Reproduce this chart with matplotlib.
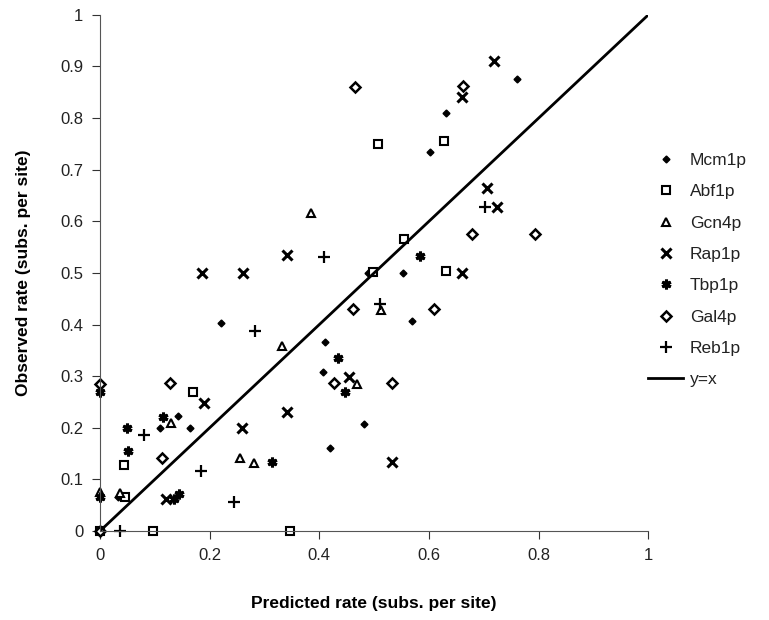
import numpy as np
import matplotlib.pyplot as plt

plt.rcParams['font.family'] = ['Liberation Sans', 'DejaVu Sans']

# predicted / observed rates per factor
mcm1p_x = [0.76, 0.631, 0.602, 0.553, 0.489, 0.57, 0.41, 0.407, 0.482, 0.42, 0.22, 0.11, 0.164, 0.142, 0.0, 0.033]
mcm1p_y = [0.875, 0.81, 0.735, 0.50, 0.50, 0.407, 0.366, 0.308, 0.207, 0.161, 0.403, 0.20, 0.20, 0.222, 0.07, 0.065]

abf1p_x = [0.0, 0.097, 0.347, 0.046, 0.044, 0.169, 0.555, 0.498, 0.631, 0.628, 0.507]
abf1p_y = [0.0, 0.0, 0.0, 0.065, 0.127, 0.27, 0.566, 0.502, 0.504, 0.755, 0.75]

gcn4p_x = [0.385, 0.332, 0.255, 0.281, 0.13, 0.037, 0.513, 0.468, 0.0]
gcn4p_y = [0.617, 0.359, 0.141, 0.132, 0.21, 0.073, 0.428, 0.285, 0.075]

rap1p_x = [0.719, 0.66, 0.706, 0.725, 0.66, 0.341, 0.186, 0.261, 0.259, 0.342, 0.12, 0.454, 0.532, 0.19]
rap1p_y = [0.91, 0.84, 0.665, 0.628, 0.50, 0.535, 0.50, 0.50, 0.20, 0.231, 0.062, 0.298, 0.133, 0.249]

tbp1p_x = [0.584, 0.05, 0.052, 0.313, 0.135, 0.145, 0.435, 0.447, 0.0, 0.115, 0.0]
tbp1p_y = [0.533, 0.20, 0.156, 0.134, 0.063, 0.072, 0.335, 0.27, 0.27, 0.22, 0.065]

gal4p_x = [0.465, 0.663, 0.678, 0.794, 0.461, 0.609, 0.427, 0.532, 0.128, 0.114, 0.0, 0.0]
gal4p_y = [0.86, 0.862, 0.575, 0.575, 0.43, 0.43, 0.286, 0.286, 0.287, 0.141, 0.285, 0.0]

reb1p_x = [0.408, 0.283, 0.081, 0.184, 0.245, 0.037, 0.51, 0.703]
reb1p_y = [0.53, 0.388, 0.186, 0.117, 0.056, 0.0, 0.44, 0.628]

fig = plt.figure(figsize=(7.69, 6.2), dpi=100)
ax = fig.add_axes([0.130, 0.1435, 0.713, 0.8325])

kw = dict(linestyle='none', color='black', clip_on=False)
ax.plot(mcm1p_x, mcm1p_y, marker='D', markersize=3.5, label='Mcm1p', **kw)
ax.plot(abf1p_x, abf1p_y, marker='s', markersize=5.5, markerfacecolor='white', markeredgewidth=1.5, label='Abf1p', **kw)
ax.plot(gcn4p_x, gcn4p_y, marker='^', markersize=6, markerfacecolor='white', markeredgewidth=1.5, label='Gcn4p', **kw)
ax.plot(rap1p_x, rap1p_y, marker='x', markersize=6.5, markeredgewidth=2.2, label='Rap1p', **kw)
ax.plot(tbp1p_x, tbp1p_y, marker=(6, 2, 0), markersize=7, markeredgewidth=2.2, label='Tbp1p', **kw)
ax.plot(gal4p_x, gal4p_y, marker='D', markersize=5, markerfacecolor='white', markeredgewidth=1.8, label='Gal4p', **kw)
ax.plot(reb1p_x, reb1p_y, marker='+', markersize=8, markeredgewidth=1.6, label='Reb1p', **kw)
ax.plot([0, 1], [0, 1], color='black', linewidth=2, label='y=x')

ax.set_xlim(0, 1)
ax.set_ylim(0, 1)
ax.set_xticks(np.arange(0, 1.01, 0.2))
ax.set_xticklabels(['0', '0.2', '0.4', '0.6', '0.8', '1'])
ax.set_yticks(np.arange(0, 1.01, 0.1))
ax.set_yticklabels(['0', '0.1', '0.2', '0.3', '0.4', '0.5', '0.6', '0.7', '0.8', '0.9', '1'])
ax.spines['top'].set_visible(False)
ax.spines['right'].set_visible(False)
ax.spines['left'].set_color('#555555')
ax.spines['bottom'].set_color('#555555')
ax.tick_params(direction='out', length=6, labelsize=12, colors='#333333', labelcolor='#222222', pad=6)

ax.set_xlabel('Predicted rate (subs. per site)', fontsize=12.5, fontweight='bold', labelpad=24)
ax.set_ylabel('Observed rate (subs. per site)', fontsize=12.5, fontweight='bold', labelpad=21)

ax.legend(loc='upper left', bbox_to_anchor=(0.978, 0.756), frameon=False, fontsize=12.5,
          handlelength=2.0, labelspacing=0.93, handletextpad=0.4, borderaxespad=0.3,
          labelcolor='#222222')

plt.savefig('out.png', dpi=100)
